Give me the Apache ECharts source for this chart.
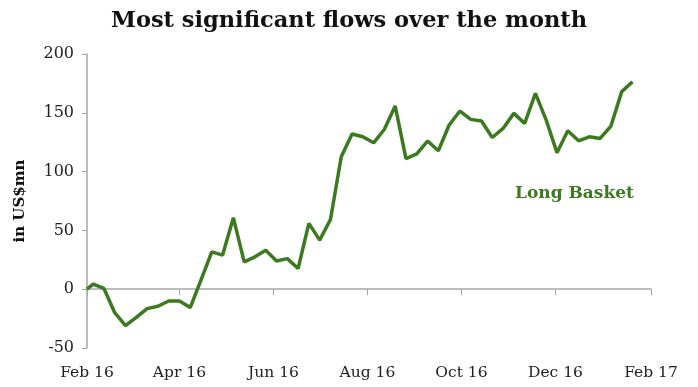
<!DOCTYPE html>
<html>
<head>
<meta charset="utf-8">
<script src="https://cdn.jsdelivr.net/npm/echarts@6/dist/echarts.min.js"></script>
<style>
  html, body { margin: 0; padding: 0; background: #fff; }
  #chart { width: 698px; height: 387px; }
</style>
</head>
<body>
<div id="chart"></div>
<script>
// Weekly net flows into the Long Basket, US$mn
const dates = [
  '2016-02-01', '2016-02-05', '2016-02-12', '2016-02-19', '2016-02-26',
  '2016-03-04', '2016-03-11', '2016-03-18', '2016-03-25', '2016-04-01',
  '2016-04-08', '2016-04-15', '2016-04-22', '2016-04-29', '2016-05-06',
  '2016-05-13', '2016-05-20', '2016-05-27', '2016-06-03', '2016-06-10',
  '2016-06-17', '2016-06-24', '2016-07-01', '2016-07-08', '2016-07-15',
  '2016-07-22', '2016-07-29', '2016-08-05', '2016-08-12', '2016-08-19',
  '2016-08-26', '2016-09-02', '2016-09-09', '2016-09-16', '2016-09-23',
  '2016-09-30', '2016-10-07', '2016-10-14', '2016-10-21', '2016-10-28',
  '2016-11-04', '2016-11-11', '2016-11-18', '2016-11-25', '2016-12-02',
  '2016-12-09', '2016-12-16', '2016-12-23', '2016-12-30', '2017-01-06',
  '2017-01-13', '2017-01-20'
];
const longBasket = [
  0, 4.3, 0.6, -20, -31,
  -24, -16.5, -14.5, -10, -10,
  -15.6, 8, 31.8, 29, 60.7,
  23.2, 27.5, 33.2, 24, 26,
  17.6, 56, 41.7, 59.3, 112.6,
  132, 129.6, 124.5, 136, 155.7,
  111, 115, 126, 117.7, 139.6,
  151.5, 144.4, 143, 129, 136.7,
  149.5, 141, 166.5, 143.8, 116,
  134.7, 126.2, 129.6, 128.2, 138.7,
  168, 176.4
];
const monthTicks = ['2016-02-01', '2016-04-01', '2016-06-01', '2016-08-01', '2016-10-01', '2016-12-01', '2017-02-01'];
const monthNames = ['Jan', 'Feb', 'Mar', 'Apr', 'May', 'Jun', 'Jul', 'Aug', 'Sep', 'Oct', 'Nov', 'Dec'];
const yTicks = { min: -50, max: 200, step: 50 };

// dates are plotted on a numeric axis as day counts from the first tick
const DAY = 86400000;
const toTime = s => { const p = s.split('-'); return Date.UTC(+p[0], +p[1] - 1, +p[2]); };
const origin = toTime(monthTicks[0]);
const toDay = s => Math.round((toTime(s) - origin) / DAY);
const tickDays = monthTicks.map(toDay);
const fmtMonth = v => {
  const d = new Date(origin + v * DAY);
  return monthNames[d.getUTCMonth()] + ' ' + String(d.getUTCFullYear()).slice(2);
};

const SERIF = '"DejaVu Serif", Georgia, serif';
const AXIS_GREY = '#a6a6a6';
const GREEN = '#3b7a1f';

const chart = echarts.init(document.getElementById('chart'), null, { renderer: 'canvas' });
chart.setOption({
  animation: false,
  backgroundColor: '#ffffff',
  title: {
    text: 'Most significant flows over the month',
    left: 'center',
    top: 5,
    textStyle: { fontFamily: SERIF, fontWeight: 'bold', fontSize: 22.5, color: '#111' }
  },
  grid: { left: 87, right: 47, top: 54, bottom: 39 },
  xAxis: [
    {
      type: 'value',
      min: tickDays[0],
      max: tickDays[tickDays.length - 1],
      axisLine: { onZero: true, lineStyle: { color: AXIS_GREY, width: 1.5 } },
      axisTick: { show: true, inside: false, length: 6, customValues: tickDays, lineStyle: { color: AXIS_GREY } },
      axisLabel: { show: false },
      splitLine: { show: false }
    },
    {
      type: 'value',
      position: 'bottom',
      min: tickDays[0],
      max: tickDays[tickDays.length - 1],
      axisLine: { show: false, onZero: false },
      axisTick: { show: false },
      axisLabel: {
        customValues: tickDays,
        formatter: fmtMonth,
        margin: 17,
        fontFamily: SERIF,
        fontSize: 15.5,
        color: '#222'
      },
      splitLine: { show: false }
    }
  ],
  yAxis: {
    type: 'value',
    min: yTicks.min,
    max: yTicks.max,
    interval: yTicks.step,
    name: 'in US$mn',
    nameLocation: 'middle',
    nameGap: 59,
    nameRotate: 90,
    nameTextStyle: { fontFamily: SERIF, fontWeight: 'bold', fontSize: 15, color: '#111' },
    axisLine: { show: true, lineStyle: { color: AXIS_GREY, width: 1.5 } },
    axisTick: { show: true, length: 5, lineStyle: { color: AXIS_GREY } },
    axisLabel: { margin: 13, fontFamily: SERIF, fontSize: 16, color: '#222' },
    splitLine: { show: false }
  },
  series: [{
    name: 'Long Basket',
    type: 'line',
    xAxisIndex: 0,
    data: dates.map((d, i) => [toDay(d), longBasket[i]]),
    symbol: 'none',
    lineStyle: { color: GREEN, width: 3.5 },
    itemStyle: { color: GREEN }
  }],
  graphic: [{
    type: 'text',
    left: 515,
    top: 185,
    style: { text: 'Long Basket', fill: GREEN, font: 'bold 17px ' + SERIF }
  }]
});
</script>
</body>
</html>
